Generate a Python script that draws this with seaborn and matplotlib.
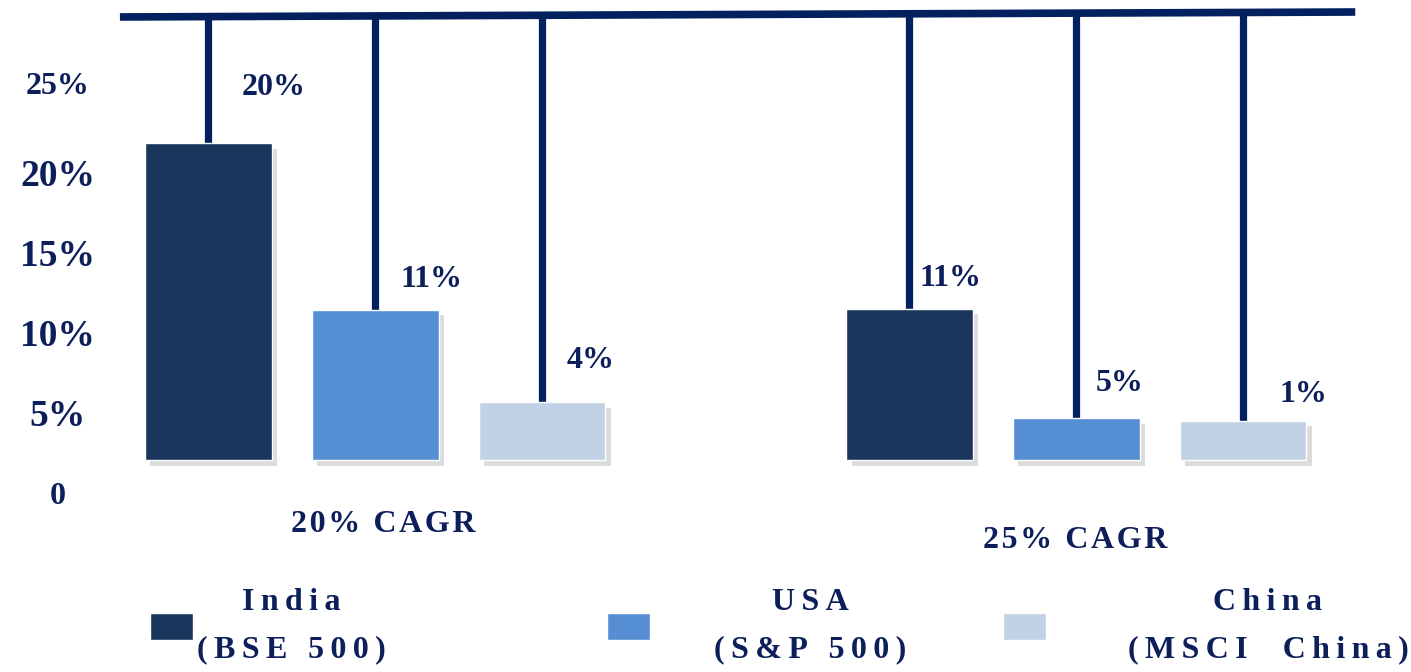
import numpy as np
import pandas as pd
import matplotlib
matplotlib.use("Agg")
import matplotlib.pyplot as plt
import matplotlib.patheffects as pe
import seaborn as sns

# data
groups = ["20% CAGR", "25% CAGR"]
markets = ["India\n(BSE 500)", "USA\n(S&P 500)", "China\n(MSCI  China)"]
bar_height = [19.8, 9.4, 3.6, 9.45, 2.6, 2.45]   # drawn heights, % scale
value_labels = ["20%", "11%", "4%", "11%", "5%", "1%"]
ytick_labels = ["0", "5%", "10%", "15%", "20%", "25%"]
colors = ["#1b365d", "#568ed4", "#c2d2e6"]

NAVY = "#0c1f5b"
LINE = "#03205f"
SERIF = ["Liberation Serif", "DejaVu Serif"]


def spaced(s, sp="\u2009"):
    # poor man's letter spacing
    return "\n".join(sp.join(line) for line in s.split("\n"))


df = pd.DataFrame({
    "group": np.repeat(groups, 3),
    "market": markets * 2,
    "height": bar_height,
})

sns.set_theme(style="white")
plt.rcParams["font.family"] = SERIF
plt.rcParams["font.weight"] = "bold"

fig = plt.figure(figsize=(14.11, 6.72), dpi=100)
ax = fig.add_axes([0.085, 0.253, 0.8755, 0.7339])

sns.barplot(data=df, x="group", y="height", hue="market", order=groups,
            hue_order=markets, palette=colors, width=0.714, gap=0.24,
            errorbar=None, saturation=1, ax=ax)
handles, _ = ax.get_legend_handles_labels()
ax.get_legend().remove()

xmin, xmax = -0.364, 1.398
ax.set_xlim(xmin, xmax)
ax.set_ylim(-2.625, 28.2)

# top bar of the "hanger"
top_left, top_right = 27.69, 28.0
ax.plot([xmin, xmax], [top_left, top_right], color=LINE, lw=5.5,
        solid_capstyle="butt", zorder=4, clip_on=False)

# label offsets (points) from the top of each hanging line
label_dx = [24, 18, 18, 7, 14, 26]
label_dy = [40, 22, 30, 22, 25, 19]

shadow = [pe.SimplePatchShadow(offset=(4, -4), shadow_rgbFace="0.55", alpha=0.3),
          pe.Normal()]
for i, cont in enumerate(ax.containers):
    for j, bar in enumerate(cont):
        k = j * 3 + i
        bar.set_path_effects(shadow)
        bar.set_zorder(3)
        xc = bar.get_x() + bar.get_width() / 2
        h = bar.get_height()
        ytop = top_left + (xc - xmin) / (xmax - xmin) * (top_right - top_left)
        ax.plot([xc, xc], [h, ytop], color=LINE, lw=5.2, zorder=2,
                solid_capstyle="butt")
        ax.annotate(value_labels[k], xy=(xc, h),
                    xytext=(label_dx[k], label_dy[k]),
                    textcoords="offset points", ha="left", va="center",
                    fontsize=23, fontweight="bold", color=NAVY)

# y labels sit a bit off the true scale in the source
ytick_pos = [-2.06, 2.94, 7.94, 12.94, 17.94, 23.56]
ax.set_yticks(ytick_pos, ytick_labels)
ax.tick_params(axis="y", length=0, pad=45, labelcolor=NAVY)
for k, t in enumerate(ax.get_yticklabels()):
    t.set_ha("center")
    t.set_fontweight("bold")
    t.set_fontsize(23 if k in (0, 5) else 27)

ax.set_xticks([])
ax.set_xlabel("")
ax.set_ylabel("")
sns.despine(ax=ax, left=True, bottom=True)

# group captions
group_dx = [0.011, -0.001]
group_y = [-4.06, -5.06]
for k, g in enumerate(groups):
    ax.text(k + group_dx[k], group_y[k], spaced(g, "\u200a"), ha="center",
            va="center", fontsize=23, fontweight="bold", color=NAVY,
            clip_on=False)

# legend, one entry each so they can be spread like the source
handle_left = [150, 607, 1003]
text_pad = [0.12, 2.0, 2.55]
for i in range(3):
    leg = fig.legend([handles[i]], [spaced(markets[i])], loc="center left",
                     bbox_to_anchor=(handle_left[i] / 1411, 0.068),
                     frameon=False, handlelength=1.35, handleheight=0.95,
                     handletextpad=text_pad[i], borderpad=0, borderaxespad=0,
                     prop={"family": SERIF, "weight": "bold", "size": 23},
                     labelcolor=NAVY)
    for t in leg.get_texts():
        t.set_multialignment("center")
        t.set_linespacing(1.85)

fig.savefig("out.png", dpi=100)
